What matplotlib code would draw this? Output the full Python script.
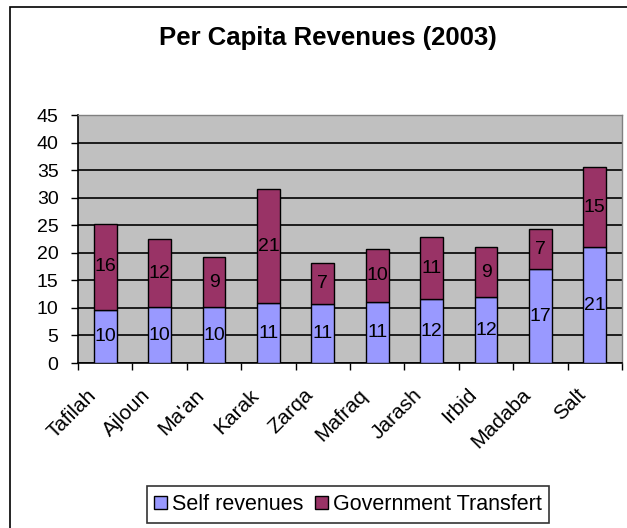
import matplotlib
matplotlib.use("Agg")
import matplotlib.pyplot as plt
from matplotlib.patches import Rectangle
from matplotlib.transforms import ScaledTranslation
import numpy as np

plt.rcParams['font.family'] = ['Liberation Sans', 'DejaVu Sans']

categories = ["Tafilah", "Ajloun", "Ma'an", "Karak", "Zarqa", "Mafraq", "Jarash", "Irbid", "Madaba", "Salt"]
self_revenues = [9.7, 10.1, 10.1, 10.8, 10.7, 11.1, 11.55, 11.9, 17.0, 21.0]
gov_transfert = [15.6, 12.35, 9.1, 20.7, 7.4, 9.6, 11.35, 9.2, 7.3, 14.6]
yticks = [0, 5, 10, 15, 20, 25, 30, 35, 40, 45]

fig = plt.figure(figsize=(6.27, 5.28), dpi=100)
fig.patch.set_facecolor('white')
# outer chart frame
fig.patches.append(Rectangle((10/627, -0.1), 1.2, 1 - 7/528 + 0.1, transform=fig.transFigure,
                             fill=False, edgecolor='black', linewidth=1.2))

ax = fig.add_axes([78/627, 1 - 363/528, (622 - 78)/627, (363 - 115)/528])
ax.set_facecolor('#C0C0C0')
x = np.arange(len(categories))
w = 0.42
b1 = ax.bar(x, self_revenues, w, color='#9999FF', edgecolor='black', linewidth=1, label='Self revenues', zorder=3)
b2 = ax.bar(x, gov_transfert, w, bottom=self_revenues, color='#993366', edgecolor='black', linewidth=1,
            label='Government Transfert', zorder=3)

for i in range(len(categories)):
    s = self_revenues[i]
    g = gov_transfert[i]
    ax.text(x[i], s / 2, f"{round(s)}", ha='center', va='center', fontsize=14, color='black', zorder=4)
    ax.text(x[i], s + g / 2, f"{round(g)}", ha='center', va='center', fontsize=14, color='black', zorder=4)

ax.set_xlim(-0.5, len(categories) - 0.5)
ax.set_ylim(0, 45)
ax.set_yticks(yticks)
ax.set_yticklabels([str(v) for v in yticks], fontsize=14)
ax.yaxis.grid(True, color='black', linewidth=1.2, zorder=1)
ax.set_axisbelow(True)

ax.set_xticks(x)
ax.set_xticklabels(categories, rotation=45, ha='right', va='top', fontsize=15, rotation_mode='anchor')
ax.tick_params(axis='x', which='major', length=0, pad=6)
offset = ScaledTranslation(-19/100, -14/100, fig.dpi_scale_trans)
for lab in ax.get_xticklabels():
    lab.set_transform(lab.get_transform() + offset)
ax.set_xticks(np.arange(-0.5, len(categories), 1), minor=True)
ax.tick_params(axis='x', which='minor', length=5, width=1, direction='out')
ax.tick_params(axis='y', length=5, width=1, direction='out', pad=9)

for side in ['top', 'right']:
    ax.spines[side].set_color('#808080')
    ax.spines[side].set_linewidth(1)
for side in ['left', 'bottom']:
    ax.spines[side].set_color('black')
    ax.spines[side].set_linewidth(1.2)

fig.text(328/627, 1 - 38/528, "Per Capita Revenues (2003)", ha='center', va='center',
         fontsize=18.5, fontweight='bold')

leg = fig.legend(handles=[b1, b2], loc='center', bbox_to_anchor=(348/627, 1 - 504.5/528), ncol=2,
                 fontsize=15.5, frameon=True, fancybox=False, edgecolor='black', handlelength=0.6,
                 handleheight=0.6, handletextpad=0.25, columnspacing=0.5, borderpad=0.35)
leg.get_frame().set_linewidth(1.2)

fig.savefig('out.png', dpi=100)
